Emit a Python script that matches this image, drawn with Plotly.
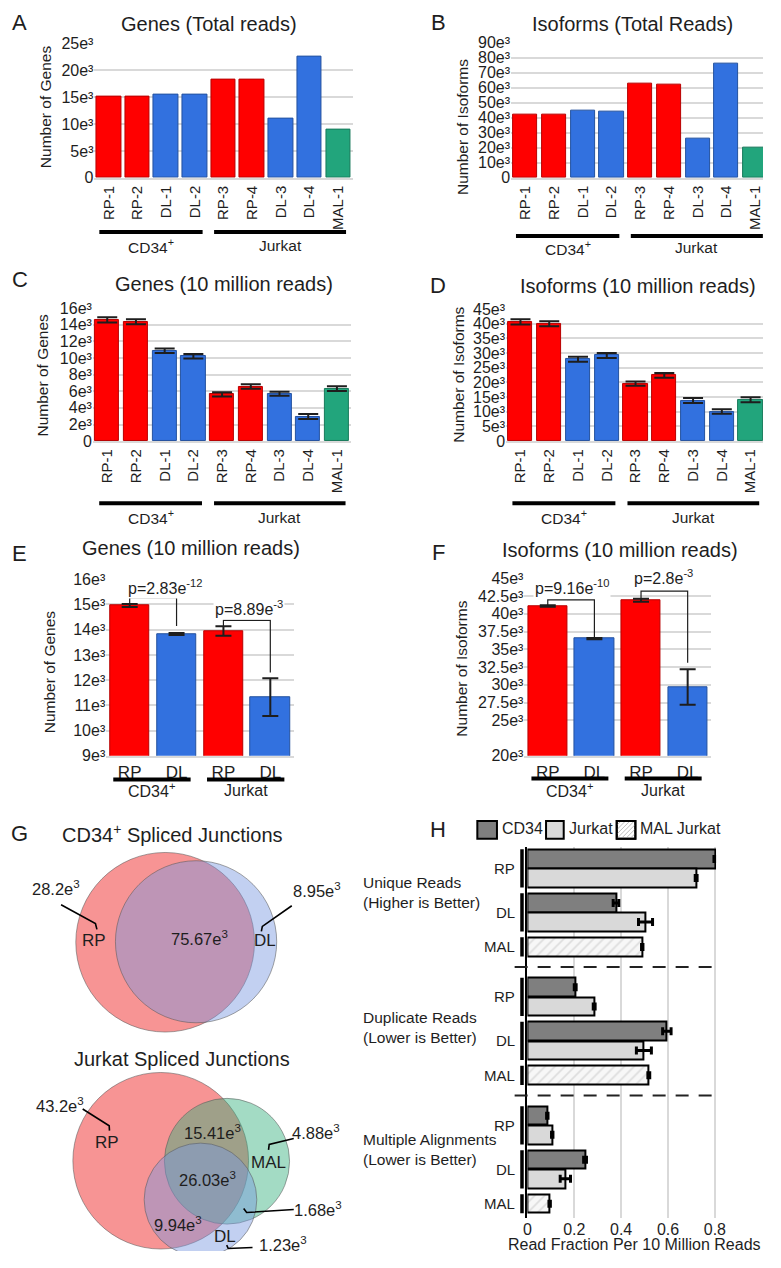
import plotly.graph_objects as go

# The page body keeps the browser's default 8px margin, so the figure is drawn
# 8px in from the top-left and sized so that the whole page is exactly 781x1268.
OFF = 8
FW, FH = 781 - 2 * OFF, 1268 - 2 * OFF
RIGHT, BOTTOM = 781 - OFF, 1268 - OFF


def px(x): return (x - OFF) / FW
def py(y): return 1 - (y - OFF) / FH


FONT = "Liberation Sans, Arial, sans-serif"
INK = "#1e1e1e"
GRID = "#d9d9d9"
FILL = {"RP": "#ff0000", "DL": "#3271df", "MAL": "#22a57c"}
EDGE = {"RP": "#b80000", "DL": "#24529f", "MAL": "#187a5b"}

# ---------------- data ----------------
samples = ["RP-1", "RP-2", "DL-1", "DL-2", "RP-3", "RP-4", "DL-3", "DL-4", "MAL-1"]
sample_cell_line = ["CD34<sup>+</sup>"] * 4 + ["Jurkat"] * 5
genes_total = [15100, 15100, 15500, 15500, 18300, 18300, 11000, 22600, 8900]
isoforms_total = [42300, 42300, 44700, 44000, 62800, 62200, 26300, 76200, 20100]
genes_10m = [14580, 14350, 10870, 10200, 5610, 6560, 5690, 2960, 6320]
genes_10m_err = [310, 290, 270, 260, 260, 270, 250, 300, 280]
isoforms_10m = [40600, 40000, 27900, 29200, 19600, 22400, 13800, 10100, 14100]
isoforms_10m_err = [880, 850, 850, 850, 750, 800, 850, 800, 850]

pooled_labels = ["RP", "DL", "RP", "DL"]
pooled_cell_line = ["CD34<sup>+</sup>"] * 2 + ["Jurkat"] * 2
genes_pooled = [14960, 13830, 13950, 11330]
genes_pooled_err = [60, 40, 190, 750]
isoforms_pooled = [41100, 36500, 41900, 29700]
isoforms_pooled_err = [100, 100, 200, 2500]
genes_pvalues = ["p=2.83e<sup>-12</sup>", "p=8.89e<sup>-3</sup>"]
isoforms_pvalues = ["p=9.16e<sup>-10</sup>", "p=2.8e<sup>-3</sup>"]

# Venn region sizes (thousands)
cd34_sets = ["RP", "DL"]
cd34_only = [28.2, 8.95]
cd34_shared = 75.67
jurkat_region_sets = [("RP",), ("MAL",), ("DL",), ("RP", "MAL"), ("RP", "DL"), ("MAL", "DL"), ("RP", "MAL", "DL")]
jurkat_region_vals = [43.2, 4.88, 1.23, 15.41, 9.94, 1.68, 26.03]

# Panel H read fractions
metric_names = ["Unique Reads<br>(Higher is Better)", "Duplicate Reads<br>(Lower is Better)",
                "Multiple Alignments<br>(Lower is Better)"]
rp_cd34 = [0.800, 0.204, 0.085]
rp_cd34_err = [0.004, 0.004, 0.003]
rp_jurkat = [0.720, 0.285, 0.106]
rp_jurkat_err = [0.004, 0.004, 0.003]
dl_cd34 = [0.378, 0.595, 0.246]
dl_cd34_err = [0.012, 0.018, 0.006]
dl_jurkat = [0.504, 0.497, 0.162]
dl_jurkat_err = [0.030, 0.032, 0.022]
mal_jurkat = [0.490, 0.518, 0.095]
mal_jurkat_err = [0.003, 0.004, 0.003]

# ---------------- helpers ----------------
fig = go.Figure()
layout = {}
shapes, annotations = [], []


def names_of(i):
    s = "" if i == 1 else str(i)
    return "x" + s, "y" + s, "xaxis" + s, "yaxis" + s


def k_label(v):
    return "0" if v == 0 else f"{v / 1000:g}e³"


def groups_of(lines):
    out = []
    for i, g in enumerate(lines):
        if out and out[-1][0] == g:
            out[-1][2] = i
        else:
            out.append([g, i, i])
    return out


def text(x, y, t, size, xanchor="center", xref="paper", yref="paper", angle=0, bg=None):
    d = dict(xref=xref, yref=yref, x=px(x) if xref == "paper" else x,
             y=py(y) if yref == "paper" else y, text=t, showarrow=False,
             xanchor=xanchor, yanchor="middle", font=dict(size=size), textangle=angle)
    if bg:
        d["bgcolor"] = bg
    annotations.append(d)


def bar_panel(i, xdom, ydom, names, vals, errs, lines, yticks, yrange, bw,
              tickangle, tickfs, capw, group_y, pad):
    xr, yr, xk, yk = names_of(i)
    n = len(vals)
    kinds = [nm.split("-")[0] for nm in names]
    # clip the domain at the right edge of the drawable area, keeping the scale
    x_lo, x_hi = xdom
    hi_val = n - 0.5
    if x_hi > RIGHT:
        hi_val = -0.5 + n * (RIGHT - x_lo) / (x_hi - x_lo)
        x_hi = RIGHT
    fig.add_trace(go.Bar(
        x=list(range(n)), y=vals, width=bw,
        marker=dict(color=[FILL[k] for k in kinds],
                    line=dict(color=[EDGE[k] for k in kinds], width=1)),
        error_y=(dict(type="data", array=errs, color=INK, thickness=2, width=capw) if errs else None),
        xaxis=xr, yaxis=yr, showlegend=False, hoverinfo="skip"))
    layout[xk] = dict(domain=[px(x_lo), px(x_hi)], anchor=yr, range=[-0.5, hi_val],
                      tickmode="array", tickvals=list(range(n)), ticktext=names,
                      tickangle=tickangle, tickfont=dict(size=tickfs), showgrid=False,
                      zeroline=False, showline=True, linecolor=GRID, linewidth=2, ticks="")
    layout[yk] = dict(domain=[py(ydom[1]), py(ydom[0])], anchor=xr, range=yrange,
                      tickmode="array", tickvals=list(yticks), ticktext=[k_label(v) for v in yticks],
                      tickfont=dict(size=16), showgrid=True, gridcolor=GRID, gridwidth=2,
                      zeroline=False, showline=False, ticks="")
    for label, i0, i1 in groups_of(lines):
        x0, x1 = i0 - pad[0], i1 + pad[1]
        shapes.append(dict(type="line", xref=xr, yref="paper", x0=x0, x1=x1,
                           y0=py(group_y[0]), y1=py(group_y[0]), line=dict(color="black", width=4)))
        annotations.append(dict(xref=xr, yref="paper", x=(x0 + x1) / 2, y=py(group_y[1]), text=label,
                                showarrow=False, xanchor="center", yanchor="middle",
                                font=dict(size=group_y[2])))
    return xr, yr


# ---------------- panels A-D ----------------
bar_panel(1, (92, 355), (36, 172), samples, genes_total, None, sample_cell_line,
          range(0, 25001, 5000), [0, 25000], 0.86, -90, 15, 10, (227, 241, 15.5), (0.33, 0.27))
bar_panel(2, (516.4, 779.6), (35, 172), samples, isoforms_total, None, sample_cell_line,
          range(0, 90001, 10000), [0, 90000], 0.84, -90, 15, 10, (231, 243, 15.5), (0.33, 0.27))
bar_panel(3, (90.4, 353.6), (304, 439), samples, genes_10m, genes_10m_err, sample_cell_line,
          range(0, 16001, 2000), [0, 16000], 0.84, -90, 15, 10, (502, 516, 15.5), (0.28, 0.3))
bar_panel(4, (511.3, 775), (305, 439), samples, isoforms_10m, isoforms_10m_err, sample_cell_line,
          range(0, 45001, 5000), [0, 45000], 0.84, -90, 15, 10, (502, 516, 15.5), (0.28, 0.3))

# ---------------- panels E-F ----------------
xe, ye = bar_panel(5, (104, 295), (579, 758), pooled_labels, genes_pooled, genes_pooled_err,
                   pooled_cell_line, range(9000, 16001, 1000), [9000, 16000], 0.84, 0, 17, 8,
                   (782, 793, 16), (0.35, 0.3))
xf, yf = bar_panel(6, (530, 720), (578, 758), pooled_labels, isoforms_pooled, isoforms_pooled_err,
                   pooled_cell_line, [20000, 25000, 27500, 30000, 32500, 35000, 37500, 40000, 42500, 45000],
                   [20000, 45000], 0.84, 0, 17, 8, (781, 793, 16), (0.35, 0.3))

brackets_E = [(0, 1, 15270, 15030, 14150), (2, 3, 14370, 14150, 12300)]
brackets_F = [(0, 1, 41950, 41200, 36700), (2, 3, 43200, 42150, 33100)]
for (xr, yr, brs) in [(xe, ye, brackets_E), (xf, yf, brackets_F)]:
    for x0, x1, yt, yl, yrr in brs:
        shapes.append(dict(type="path", xref=xr, yref=yr,
                           path=f"M {x0},{yl} L {x0},{yt} L {x1},{yt} L {x1},{yrr}",
                           line=dict(color=INK, width=1.2)))
for (x, y), t in zip([(164, 587), (249, 608)], genes_pvalues):
    text(x, y, t, 16, bg="white")
for (x, y), t in zip([(578, 587), (672, 577)], isoforms_pvalues):
    text(x, y, t, 16, bg="white")

# ---------------- titles / letters / y titles ----------------
for (x, y), t in zip([(16, 15), (442, 15), (16, 275), (442, 281), (16, 553), (442, 552), (16, 837), (442, 833)],
                     "ABCDEFGH"):
    text(x, y, t, 22)
for (x, y), t in zip([(209, 16), (640, 16), (224, 280), (646, 282), (190, 547), (627, 549)],
                     ["Genes (Total reads)", "Isoforms (Total Reads)", "Genes (10 million reads)",
                      "Isoforms (10 million reads)", "Genes (10 million reads)", "Isoforms (10 million reads)"]):
    text(x, y, t, 20)
for (x, y), t in zip([(42, 100), (467, 121), (39, 372), (462, 372), (47, 673), (465, 670)],
                     ["Number of Genes", "Number of Isoforms", "Number of Genes",
                      "Number of Isoforms", "Number of Genes", "Number of Isoforms"]):
    text(x, y, t, 15.5, angle=-90)

# ---------------- panel G: Venn diagrams ----------------
layout["xaxis8"] = dict(domain=[px(OFF), px(390)], range=[OFF, 390], anchor="y8", visible=False)
layout["yaxis8"] = dict(domain=[py(BOTTOM), py(820)], range=[BOTTOM, 820], anchor="x8", visible=False)
fig.add_trace(go.Scatter(x=[OFF], y=[BOTTOM], mode="markers", marker=dict(opacity=0),
                         xaxis="x8", yaxis="y8", showlegend=False, hoverinfo="skip"))

VENN_FILL = {"RP": "rgba(240,60,60,0.55)", "DL": "rgba(120,150,225,0.45)", "MAL": "rgba(50,175,125,0.45)"}


def circle(cx, cy, r, fill):
    shapes.append(dict(type="circle", xref="x8", yref="y8", x0=cx - r, x1=cx + r, y0=cy - r, y1=cy + r,
                       fillcolor=fill, line=dict(color="rgba(90,90,90,0.55)", width=1), layer="above"))


def leader(pts):
    path = "M " + " L ".join(f"{x},{y}" for x, y in pts)
    shapes.append(dict(type="path", xref="x8", yref="y8", path=path, line=dict(color="black", width=1.6)))


def vtext(x, y, t, size=17):
    text(x, y, t, size, xref="x8", yref="y8")


def e3(v):
    return f"{v:g}e<sup>3</sup>"


# CD34 (area-proportional circles)
k1 = 8.93
cd34_totals = [cd34_only[0] + cd34_shared, cd34_only[1] + cd34_shared]
cd34_centers = [(164, 947), (195.5, 946.5)]
for s, tot, (cx, cy) in zip(cd34_sets, cd34_totals, cd34_centers):
    circle(cx, cy, k1 * tot ** 0.5, VENN_FILL[s])
text(171, 837, "CD34<sup>+</sup> Spliced Junctions", 20)
vtext(52.5, 892, e3(cd34_only[0]), 16.5)
leader([(58, 909), (93, 928), (94.5, 934)])
vtext(92, 945, "RP")
vtext(199, 943, e3(cd34_shared), 16.5)
vtext(266, 945, "DL")
vtext(319, 894, e3(cd34_only[1]), 16.5)
leader([(293, 910), (263, 931), (262, 936)])

# Jurkat
k2 = 9.2
jurkat_sets = ["RP", "MAL", "DL"]
jurkat_centers = [(159.5, 1168.5), (227, 1169), (200, 1208)]
for s, (cx, cy) in zip(jurkat_sets, jurkat_centers):
    tot = sum(v for regs, v in zip(jurkat_region_sets, jurkat_region_vals) if s in regs)
    circle(cx, cy, k2 * tot ** 0.5, VENN_FILL[s])
text(181, 1065, "Jurkat Spliced Junctions", 20)
jv = dict(zip(jurkat_region_sets, jurkat_region_vals))
vtext(57, 1112, e3(jv[("RP",)]), 16.5)
leader([(80, 1116), (107, 1133), (107.3, 1138)])
vtext(105, 1150, "RP")
vtext(212, 1139, e3(jv[("RP", "MAL")]), 16.5)
vtext(318, 1139, e3(jv[("MAL",)]), 16.5)
leader([(295, 1146), (270, 1152), (269.3, 1157.5)])
vtext(269, 1170, "MAL")
vtext(207, 1187, e3(jv[("RP", "MAL", "DL")]), 16.5)
vtext(320, 1217, e3(jv[("MAL", "DL")]), 16.5)
leader([(295, 1218), (247, 1221), (244, 1217)])
vtext(177, 1233, e3(jv[("RP", "DL")]), 16.5)
vtext(225, 1245, "DL")
vtext(284, 1252.5, e3(jv[("DL",)]), 16.5)
leader([(253, 1256.5), (228.3, 1257.5), (226.7, 1254)])

# ---------------- panel H ----------------
STEP = 6.71
slot = {"rp_cd34": 0.0, "rp_jurkat": 1.0, "dl_cd34": 2.3, "dl_jurkat": 3.3, "mal": 4.6}
hbar_style = dict(orientation="h", width=0.97, xaxis="x7", yaxis="y7", showlegend=False, hoverinfo="skip")
err_style = dict(type="data", color="black", thickness=3, width=4)


def ypos(key):
    return [g * STEP + slot[key] for g in range(len(metric_names))]


fig.add_trace(go.Bar(x=rp_cd34 + dl_cd34, y=ypos("rp_cd34") + ypos("dl_cd34"),
                     error_x=dict(array=rp_cd34_err + dl_cd34_err, **err_style),
                     marker=dict(color="#7f7f7f", line=dict(color="black", width=2)), **hbar_style))
fig.add_trace(go.Bar(x=rp_jurkat + dl_jurkat, y=ypos("rp_jurkat") + ypos("dl_jurkat"),
                     error_x=dict(array=rp_jurkat_err + dl_jurkat_err, **err_style),
                     marker=dict(color="#d9d9d9", line=dict(color="black", width=2)), **hbar_style))
fig.add_trace(go.Bar(x=mal_jurkat, y=ypos("mal"),
                     error_x=dict(array=mal_jurkat_err, **err_style),
                     marker=dict(color="#f7f7f7", line=dict(color="black", width=2),
                                 pattern=dict(shape="/", fgcolor="#c4c4c4", bgcolor="#f7f7f7",
                                              size=7, solidity=0.25)), **hbar_style))

layout["xaxis7"] = dict(domain=[px(533), px(725.2)], range=[0, 0.805], anchor="y7",
                        tickmode="array", tickvals=[0, 0.2, 0.4, 0.6, 0.8],
                        ticktext=["0", "0.2", "0.4", "0.6", "0.8"], tickfont=dict(size=16),
                        showgrid=True, gridcolor=GRID, gridwidth=2, zeroline=False, showline=False, ticks="")
layout["yaxis7"] = dict(domain=[py(1227), py(850)], range=[18.79, -0.645], anchor="x7",
                        showticklabels=False, showgrid=False, zeroline=False, showline=True,
                        linecolor="black", linewidth=2, ticks="")
text(642, 1253, "Read Fraction Per 10 Million Reads", 16)

for g in range(len(metric_names)):
    base = g * STEP
    for lab, yc, y0, y1 in [("RP", 0.5, -0.5, 1.5), ("DL", 2.8, 1.8, 3.8), ("MAL", 4.6, 4.1, 5.1)]:
        annotations.append(dict(xref="paper", yref="y7", x=px(522), y=base + yc, text=lab, showarrow=False,
                                xanchor="right", yanchor="middle", font=dict(size=15)))
        shapes.append(dict(type="line", xref="paper", yref="y7", x0=px(527.5), x1=px(527.5),
                           y0=base + y0, y1=base + y1, line=dict(color="black", width=3.5)))
    if g < len(metric_names) - 1:
        yd = base + 5.655
        shapes.append(dict(type="line", xref="paper", yref="y7", x0=px(520), x1=px(724), y0=yd, y1=yd,
                           line=dict(color="#222222", width=2, dash="13px,10px")))
for yc, t in zip([897, 1033, 1157], metric_names):
    annotations.append(dict(xref="paper", yref="paper", x=px(363), y=py(yc), text=t, showarrow=False,
                            xanchor="left", yanchor="middle", align="left", font=dict(size=15.5)))


# legend swatches
def box(x0, x1, y0, y1, fill):
    shapes.append(dict(type="rect", xref="paper", yref="paper", x0=px(x0), x1=px(x1), y0=py(y1), y1=py(y0),
                       fillcolor=fill, line=dict(color="black", width=2)))


box(482, 502, 824, 842, "#7f7f7f")
box(552, 570, 824, 842, "#d9d9d9")
box(624, 643, 824, 842, "white")
a, b, t, u = 624, 643, 824, 842
segs = []
c = a + t
while c <= b + u:
    xmin, xmax = max(a, c - u), min(b, c - t)
    if xmax > xmin:
        segs.append(f"M {px(xmin)},{py(c - xmin)} L {px(xmax)},{py(c - xmax)}")
    c += 4.5
shapes.append(dict(type="path", xref="paper", yref="paper", path=" ".join(segs),
                   line=dict(color="#bdbdbd", width=1)))
box(624, 643, 824, 842, "rgba(0,0,0,0)")
for x, t in [(505, "CD34"), (573, "Jurkat"), (646, "MAL Jurkat")]:
    text(x, 832, t, 16, xanchor="left")

fig.update_layout(
    width=FW, height=FH, autosize=False, margin=dict(l=0, r=0, t=0, b=0),
    paper_bgcolor="white", plot_bgcolor="white", bargap=0,
    font=dict(family=FONT, color=INK, size=15),
    shapes=shapes, annotations=annotations, **layout)

fig.write_html("out.html", config={"displayModeBar": False})
